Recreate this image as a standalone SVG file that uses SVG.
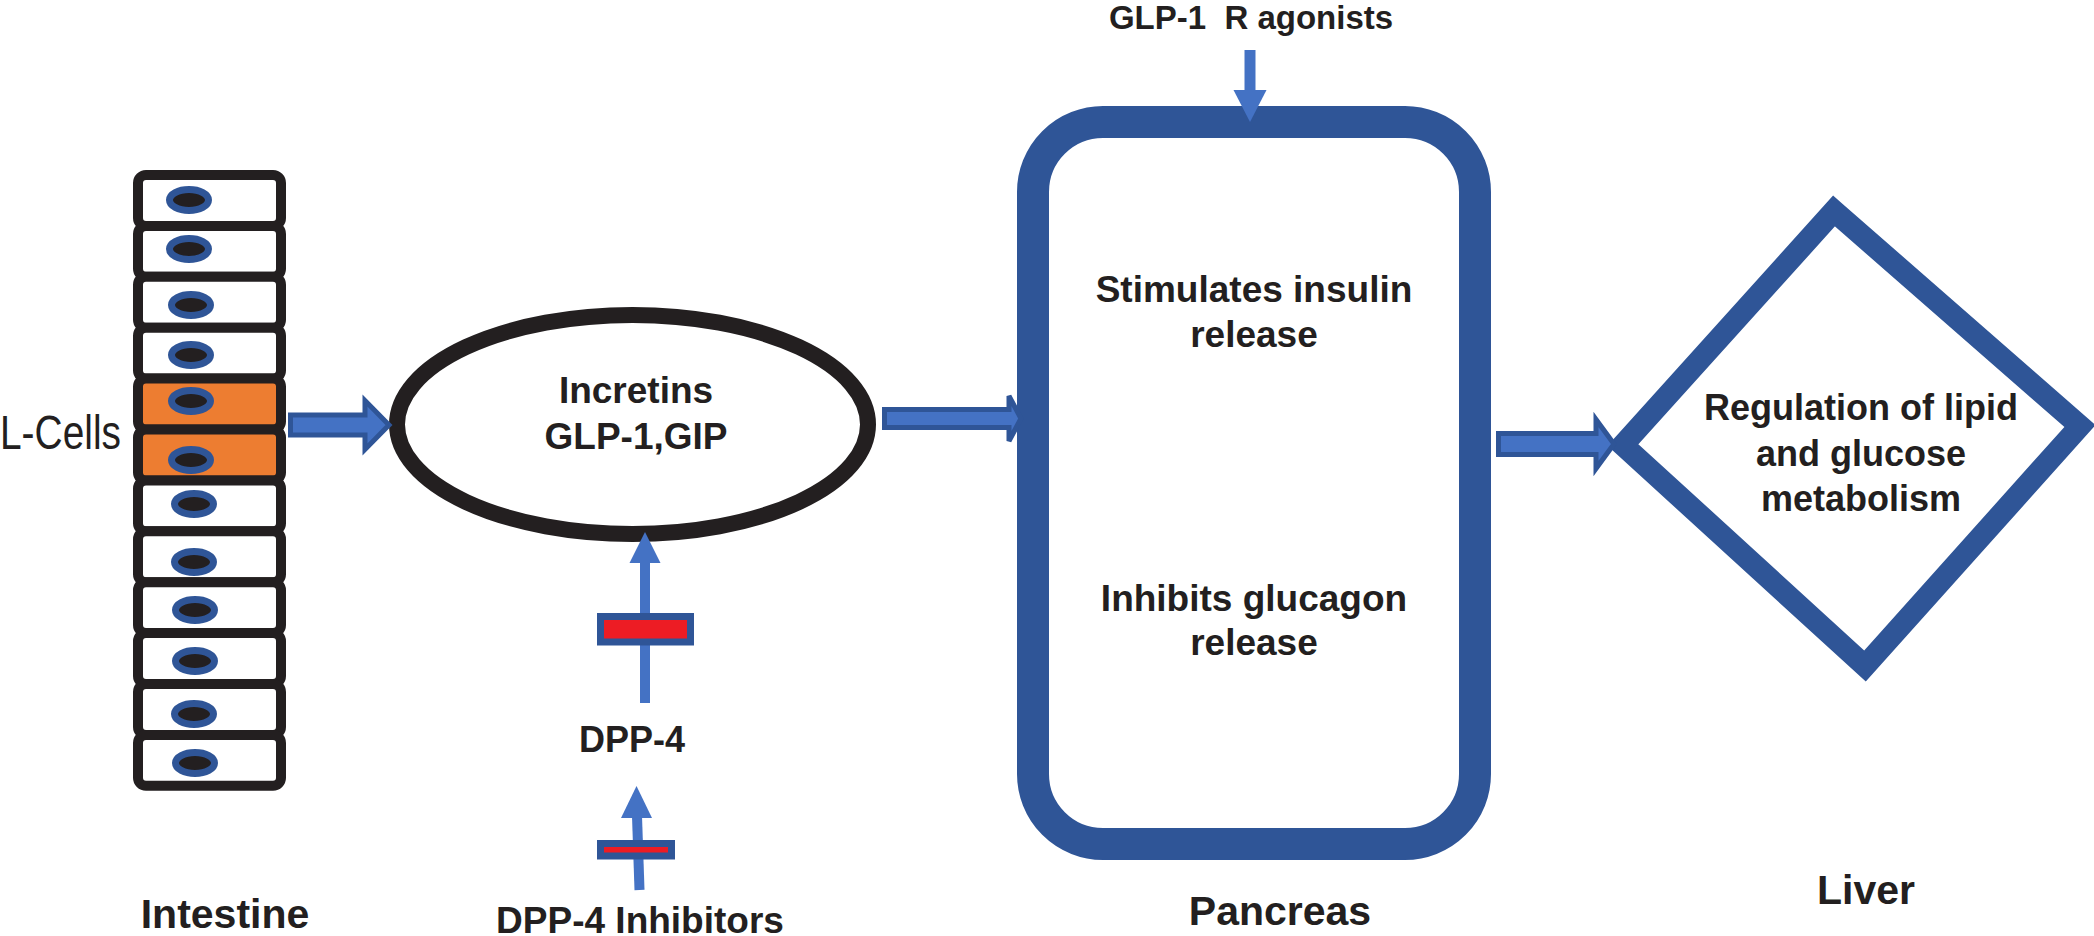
<svg xmlns="http://www.w3.org/2000/svg" width="2094" height="936" viewBox="0 0 2094 936">
<style>
.cell{fill:#ffffff;stroke:#231f20;stroke-width:10}
.lcell{fill:#ed7d31;stroke:#231f20;stroke-width:10}
.nuc{fill:#231f20;stroke:#2f5597;stroke-width:7}
.lbl{font-family:"Liberation Sans",Arial,sans-serif;font-weight:bold;font-size:36px;fill:#231f20;text-anchor:middle}
.in{font-size:37px}
.big{font-size:41px}
.reg{font-family:"Liberation Sans",Arial,sans-serif;font-size:48px;fill:#231f20}
.block{fill:#4472c4;stroke:#2f5597;stroke-width:5;stroke-linejoin:miter}
.shaft{stroke:#4472c4;stroke-width:10;fill:none}
.head{fill:#4472c4}
.inhib{fill:#ed1c24;stroke:#2f5597;stroke-width:7}
</style>
<rect width="2094" height="936" fill="#ffffff"/>

<g id="intestine">
<rect class="cell" x="138" y="175" width="143" height="50.9" rx="8"/>
<rect class="cell" x="138" y="225.9" width="143" height="50.9" rx="8"/>
<rect class="cell" x="138" y="276.8" width="143" height="50.9" rx="8"/>
<rect class="cell" x="138" y="327.7" width="143" height="50.9" rx="8"/>
<rect class="lcell" x="138" y="378.6" width="143" height="50.9" rx="8"/>
<rect class="lcell" x="138" y="429.5" width="143" height="50.9" rx="8"/>
<rect class="cell" x="138" y="480.4" width="143" height="50.9" rx="8"/>
<rect class="cell" x="138" y="531.3" width="143" height="50.9" rx="8"/>
<rect class="cell" x="138" y="582.2" width="143" height="50.9" rx="8"/>
<rect class="cell" x="138" y="633.1" width="143" height="50.9" rx="8"/>
<rect class="cell" x="138" y="684" width="143" height="50.9" rx="8"/>
<rect class="cell" x="138" y="734.9" width="143" height="50.9" rx="8"/>
<ellipse class="nuc" cx="189" cy="200" rx="19.5" ry="10.5"/>
<ellipse class="nuc" cx="189" cy="249" rx="19.5" ry="10.5"/>
<ellipse class="nuc" cx="191" cy="305" rx="19.5" ry="10.5"/>
<ellipse class="nuc" cx="191" cy="355" rx="19.5" ry="10.5"/>
<ellipse class="nuc" cx="191" cy="401" rx="19.5" ry="10.5"/>
<ellipse class="nuc" cx="191" cy="460" rx="19.5" ry="10.5"/>
<ellipse class="nuc" cx="194" cy="504" rx="19.5" ry="10.5"/>
<ellipse class="nuc" cx="194" cy="562" rx="19.5" ry="10.5"/>
<ellipse class="nuc" cx="195" cy="610" rx="19.5" ry="10.5"/>
<ellipse class="nuc" cx="195" cy="661" rx="19.5" ry="10.5"/>
<ellipse class="nuc" cx="194" cy="714" rx="19.5" ry="10.5"/>
<ellipse class="nuc" cx="195" cy="763" rx="19.5" ry="10.5"/>
</g>

<g id="lcells-label">
<text class="reg" x="0" y="449" textLength="121" lengthAdjust="spacingAndGlyphs">L-Cells</text>
</g>

<g id="incretins">
<ellipse cx="632.5" cy="424.5" rx="235.5" ry="109.5" fill="#ffffff" stroke="#231f20" stroke-width="16"/>
<text class="lbl in" x="636" y="403">Incretins</text>
<text class="lbl in" x="636" y="449">GLP-1,GIP</text>
</g>

<g id="pancreas">
<rect x="1033" y="122" width="442" height="722" rx="70" fill="#ffffff" stroke="#2f5597" stroke-width="32"/>
<text class="lbl in" x="1254" y="302">Stimulates insulin</text>
<text class="lbl in" x="1254" y="347">release</text>
<text class="lbl in" x="1254" y="611">Inhibits glucagon</text>
<text class="lbl in" x="1254" y="655">release</text>
</g>

<g id="liver">
<polygon points="1834,211 2080,426 1865,666 1623,445" fill="#ffffff" stroke="#2f5597" stroke-width="22" stroke-linejoin="miter"/>
<text class="lbl" x="1861" y="420">Regulation of lipid</text>
<text class="lbl" x="1861" y="466">and glucose</text>
<text class="lbl" x="1861" y="511">metabolism</text>
</g>

<g id="glp1-agonists">
<text class="lbl" x="1251" y="29" style="font-size:33px" xml:space="preserve">GLP-1  R agonists</text>
</g>

<g id="dpp4">
<text class="lbl" x="632" y="752">DPP-4</text>
</g>

<g id="dpp4-inhibitors">
<text class="lbl" x="640" y="933" style="font-size:37px">DPP-4 Inhibitors</text>
</g>

<g id="region-labels">
<text class="lbl big" x="225" y="928">Intestine</text>
<text class="lbl big" x="1280" y="925">Pancreas</text>
<text class="lbl big" x="1866" y="904">Liver</text>
</g>

<g id="connectors">
<polygon class="block" points="290.5,415 365,415 365,400.5 389,425 365,449.5 365,435 290.5,435"/>
<polygon class="block" points="884.5,409.5 1009,409.5 1009,396 1021,418.5 1009,441 1009,427.5 884.5,427.5"/>
<polygon class="block" points="1498.5,433.5 1596,433.5 1596,419.5 1614,444 1596,468.5 1596,454.5 1498.5,454.5"/>
<line class="shaft" x1="1250" y1="50" x2="1250" y2="92" style="stroke-width:11"/>
<polygon class="head" points="1233.5,90 1266.5,90 1250,122"/>
<line class="shaft" x1="645" y1="703" x2="645" y2="561"/>
<polygon class="head" points="629.5,563 660.5,563 645,532"/>
<rect class="inhib" x="600.5" y="616.5" width="90" height="25.5"/>
<line class="shaft" x1="639.5" y1="890" x2="637" y2="816"/>
<polygon class="head" points="621,818 652,818 636.5,786"/>
<rect class="inhib" x="600.5" y="843.5" width="71" height="12.5"/>
</g>
</svg>
